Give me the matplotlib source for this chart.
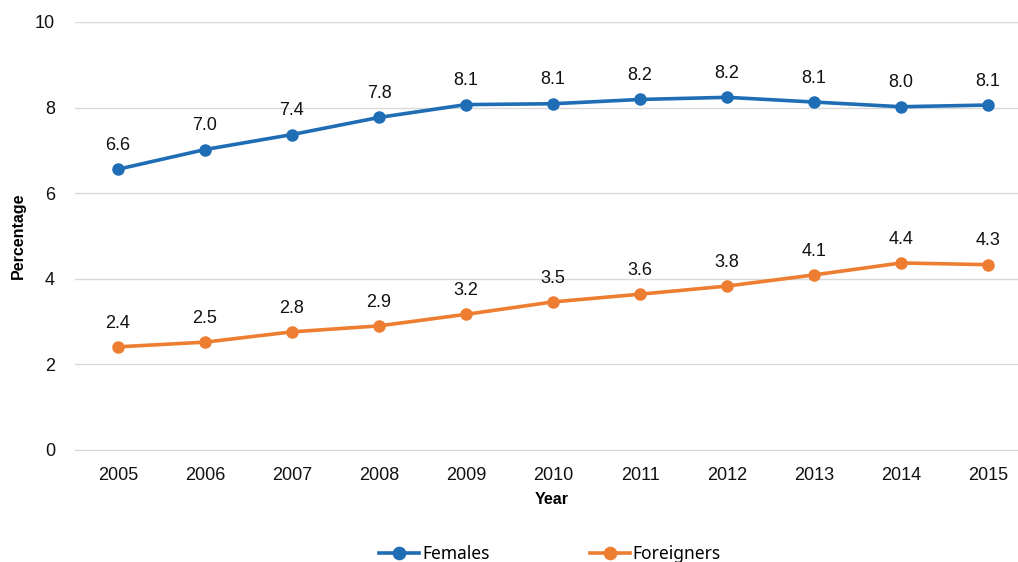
import numpy as np
from matplotlib import pyplot as plt

years = ['2005', '2006', '2007', '2008', '2009', '2010', '2011', '2012', '2013', '2014', '2015']
females = [6.56, 7.02, 7.37, 7.77, 8.07, 8.09, 8.19, 8.24, 8.13, 8.02, 8.06]
foreigners = [2.41, 2.52, 2.76, 2.9, 3.17, 3.46, 3.64, 3.83, 4.09, 4.37, 4.33]

blue = '#1f6db5'
orange = '#ed7d31'

plt.rcParams['font.family'] = 'Liberation Sans'

fig = plt.figure(figsize=(10.18, 5.62), dpi=100)
ax = fig.add_axes([74.5 / 1018, 1 - 450 / 562, 957 / 1018, 428 / 562])

x = np.arange(len(years))
ax.plot(x, females, color=blue, lw=2.6, marker='o', ms=8, label='Females', zorder=3)
ax.plot(x, foreigners, color=orange, lw=2.6, marker='o', ms=8, label='Foreigners', zorder=3)

# value labels above each point
for xi, v in zip(x, females):
    ax.annotate(f'{v:.1f}', (xi, v), xytext=(0, 11), textcoords='offset points',
                ha='center', va='bottom', fontsize=13, color='#111111')
for xi, v in zip(x, foreigners):
    ax.annotate(f'{v:.1f}', (xi, v), xytext=(0, 11), textcoords='offset points',
                ha='center', va='bottom', fontsize=13, color='#111111')

ax.set_xlim(-0.5, len(years) - 0.5)
ax.set_ylim(0, 10)
ax.set_yticks([0, 2, 4, 6, 8, 10])
ax.set_xticks(x)
ax.set_xticklabels(years)
ax.grid(axis='y', color='#d9d9d9', lw=1)
ax.set_axisbelow(True)
for s in ['top', 'right', 'left']:
    ax.spines[s].set_visible(False)
ax.spines['bottom'].set_color('#d9d9d9')
ax.tick_params(axis='both', length=0, labelsize=13, colors='#111111')
ax.tick_params(axis='x', pad=12)
ax.tick_params(axis='y', pad=14)

fig.text(18 / 1018, 1 - 236 / 562, 'Percentage', rotation=90, ha='center', va='center',
         fontsize=11.5, fontweight='bold')
fig.text(552 / 1018, 1 - 500 / 562, 'Year', ha='center', va='center',
         fontsize=11.5, fontweight='bold')

fig.legend(loc='center', bbox_to_anchor=(550 / 1018, 1 - 554 / 562), ncol=2,
           frameon=False, columnspacing=5.8, handlelength=2.3, handletextpad=0.15,
           markerscale=1.1, prop={'family': 'Noto Sans', 'size': 12.5})

fig.savefig('out.png', dpi=100)
